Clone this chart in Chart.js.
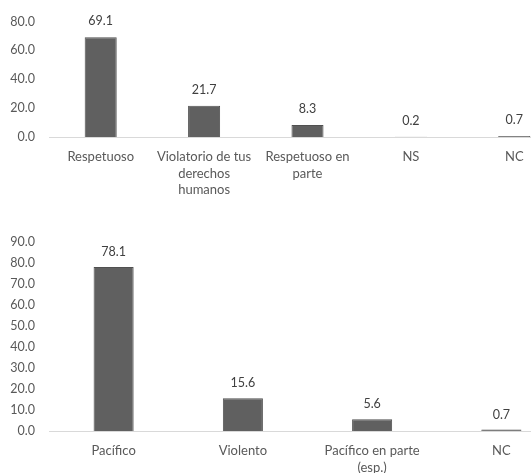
<!doctype html>
<html lang="es">
  <head>
    <meta charset="utf-8">
    <title>Respetuoso / Pacífico</title>
    <style>
      * { margin: 0; padding: 0; }
      body { width: 531px; height: 473px; overflow: hidden; background: #fff; position: relative; }
      .box { position: absolute; left: 0; width: 566px; }
      #box1 { top: 0; height: 210px; }
      #box2 { top: 220px; height: 253px; }
    </style>
  </head>
  <body>
    <div class="box" id="box1"><canvas id="chart1"></canvas></div>
    <div class="box" id="box2"><canvas id="chart2"></canvas></div>
    <script src="https://cdn.jsdelivr.net/npm/chart.js"></script>
    <script>
    // data
    const labels1 = [['Respetuoso'], ['Violatorio de tus', 'derechos', 'humanos'], ['Respetuoso en', 'parte'], 'NS', 'NC'];
    const values1 = [69.1, 21.7, 8.3, 0.2, 0.7];
    const labels2 = ['Pacífico', 'Violento', ['Pacífico en parte', '(esp.)'], 'NC'];
    const values2 = [78.1, 15.6, 5.6, 0.7];

    const grey = '#595959';
    const tickFont = { family: 'Lato, sans-serif', size: 12.5 };
    const catFont = { family: 'Lato, sans-serif', size: 13, lineHeight: '16.5px' };

    // draws the number above each bar
    const valueLabels = {
      id: 'valueLabels',
      afterDatasetsDraw(chart, args, opts) {
        const ctx = chart.ctx;
        ctx.save();
        ctx.font = '12.5px Lato, sans-serif';
        ctx.fillStyle = '#404040';
        ctx.textAlign = 'center';
        ctx.textBaseline = 'middle';
        const ds = chart.data.datasets[0];
        chart.getDatasetMeta(0).data.forEach((bar, i) => {
          ctx.fillText(ds.data[i].toFixed(1), bar.x, bar.y - opts.offset);
        });
        ctx.restore();
      }
    };

    function makeChart(id, labels, values, max, step, top, axisH, offset) {
      return new Chart(document.getElementById(id), {
        type: 'bar',
        data: {
          labels: labels,
          datasets: [{
            data: values,
            backgroundColor: '#606060',
            borderColor: '#505050',
            borderWidth: 1,
            barPercentage: 0.62,
            categoryPercentage: 0.5
          }]
        },
        options: {
          responsive: true,
          maintainAspectRatio: false,
          animation: false,
          layout: { padding: { top: top, right: 0, bottom: 0, left: 0 } },
          plugins: {
            legend: { display: false },
            tooltip: { enabled: false },
            valueLabels: { offset: offset }
          },
          scales: {
            x: {
              grid: { display: false, drawTicks: false },
              border: { display: true, color: '#d9d9d9', width: 1 },
              ticks: { color: grey, font: catFont, padding: 12, maxRotation: 0, autoSkip: false },
              afterFit(scale) { scale.height = axisH; }
            },
            y: {
              min: 0,
              max: max,
              grid: { display: false, drawTicks: false },
              border: { display: false },
              ticks: {
                stepSize: step,
                color: grey,
                font: tickFont,
                padding: 14,
                callback: v => v.toFixed(1)
              },
              afterFit(scale) { scale.width = 49; }
            }
          }
        },
        plugins: [valueLabels]
      });
    }

    makeChart('chart1', labels1, values1, 80, 20, 19, 73, 16);
    makeChart('chart2', labels2, values2, 90, 10, 22, 42, 15);
    </script>
  </body>
</html>
